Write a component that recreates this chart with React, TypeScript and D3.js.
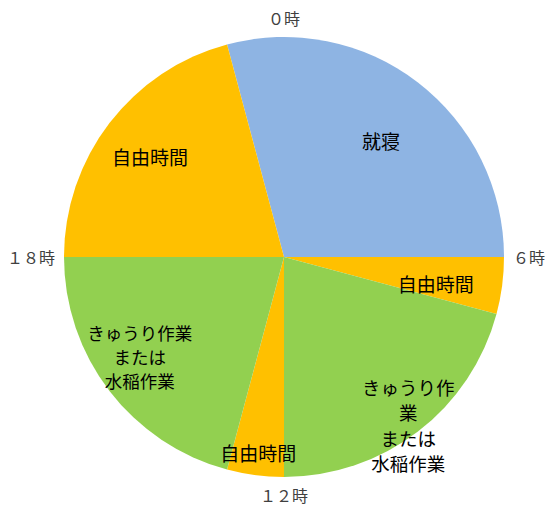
import React from "react";
import * as d3 from "d3";

const activities = ["就寝", "自由時間", "きゅうり作業または水稲作業", "自由時間", "きゅうり作業または水稲作業", "自由時間"];
const hours = [7, 1, 5, 1, 5, 5];
const colors = ["#8EB4E3", "#FFC000", "#92D050", "#FFC000", "#92D050", "#FFC000"];
const labelLines = [
  ["就寝"],
  ["自由時間"],
  ["きゅうり作", "業", "または", "水稲作業"],
  ["自由時間"],
  ["きゅうり作業", "または", "水稲作業"],
  ["自由時間"],
];
const clockLabels = ["０時", "６時", "１２時", "１８時"];
const clockHours = [0, 6, 12, 18];
const startHour = -1;

const W = 549, H = 506;
const cx = 284, cy = 257, R = 220;
const font = "'Noto Sans CJK JP', 'Noto Sans', sans-serif";

// label centres: [radius fraction, angle in hours]
const labelPos: [number, number][] = [
  [0.69, 2.65],
  [0.7, 6.65],
  [0.95, 9.57],
  [0.895, 12.5],
  [0.795, 15.7],
  [0.76, 20.45],
];
const labelSize = [19, 19, 18.5, 19, 17.5, 19];
const lineGap = [24, 24, 25.3, 24, 24, 24];

export default function App() {
  const angle = d3.scaleLinear().domain([0, 24]).range([0, 2 * Math.PI]);
  const pie = d3
    .pie<number>()
    .sort(null)
    .value((d) => d)
    .startAngle(angle(startHour))
    .endAngle(angle(startHour + 24));
  const arcs = pie(hours);
  const arc = d3.arc<d3.PieArcDatum<number>>().innerRadius(0).outerRadius(R);

  const polar = (r: number, h: number) => {
    const a = angle(h);
    return [cx + r * Math.sin(a), cy - r * Math.cos(a)];
  };

  return (
    <svg width={W} height={H} style={{ position: "absolute", left: 0, top: 0 }}>
      <rect width={W} height={H} fill="#fff" />
      <g transform={`translate(${cx},${cy})`}>
        {arcs.map((a, i) => (
          <path key={i} d={arc(a) || ""} fill={colors[i]} />
        ))}
      </g>
      {labelLines.map((lines, i) => {
        const [fr, h] = labelPos[i];
        const [x, y] = polar(fr * R, h);
        const lh = lineGap[i];
        const y0 = y - ((lines.length - 1) * lh) / 2;
        return (
          <text key={i} textAnchor="middle" fontFamily={font} fontSize={labelSize[i]} fill="#000">
            {lines.map((l, j) => (
              <tspan key={j} x={x} y={y0 + j * lh} dominantBaseline="central">
                {l}
              </tspan>
            ))}
          </text>
        );
      })}
      {clockLabels.map((t, i) => {
        const h = clockHours[i];
        const [x, y] = polar(R + 18, h);
        const anchor = h === 6 ? "start" : h === 18 ? "end" : "middle";
        const dx = h === 6 ? -9 : h === 18 ? 9 : 0;
        const dy = h === 0 ? -1 : 0;
        return (
          <text
            key={t}
            x={x + dx}
            y={y + dy}
            textAnchor={anchor}
            dominantBaseline="central"
            fontFamily={font}
            fontSize={16}
            fill="#404040"
          >
            {t}
          </text>
        );
      })}
    </svg>
  );
}
